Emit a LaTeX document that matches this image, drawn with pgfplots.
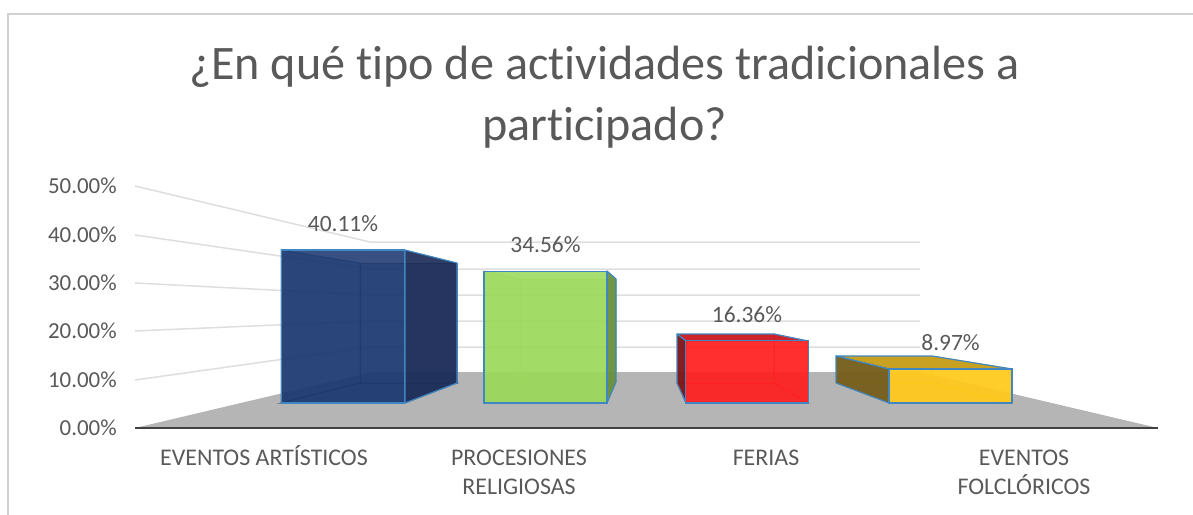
\documentclass[border=0pt]{standalone}
\usepackage{pgfplots}
\pgfplotsset{compat=1.18}
\usepackage{fontspec}
\setmainfont[Ligatures=NoCommon]{Carlito}
\definecolor{txt}{HTML}{595959}
\definecolor{gridc}{HTML}{DEDEDE}
\definecolor{edge}{HTML}{3F86C2}
\definecolor{floorc}{HTML}{B5B5B5}
\definecolor{cblue}{HTML}{1B3870}
\definecolor{cgreen}{HTML}{9BD95C}
\definecolor{cred}{HTML}{FF2020}
\definecolor{cyellow}{HTML}{FFC91A}
\definecolor{sblue}{HTML}{1B2C58}
\definecolor{sgreen}{HTML}{688F3C}
\definecolor{sred}{HTML}{7A1418}
\definecolor{syellow}{HTML}{705A1C}
\definecolor{tyellow}{HTML}{C49C18}
\definecolor{tred}{HTML}{C81A20}
\pgfplotsset{
  face/.style={draw=#1,fill=#1,fill opacity=.45,draw opacity=.6,line width=1bp},
  side/.style={draw=edge,fill=#1,fill opacity=.92,line width=1.2bp,line join=round},
}
\newcommand{\fl}{\rule{0pt}{20bp}}
\begin{document}
\begin{tikzpicture}
\useasboundingbox (0,0) rectangle (1193bp,515bp);
% ---------- background layer, in pixel coordinates of the picture
\begin{axis}[at={(0bp,0bp)},anchor=south west,width=1193bp,height=515bp,scale only axis,
  xmin=0,xmax=1193,ymin=0,ymax=515,y dir=reverse,hide axis,clip=false]
\addplot[draw=black!18,line width=1.8bp] coordinates {(8,515) (8,14) (1193,14)};
% floor
\addplot[draw=none,fill=floorc] coordinates {(135,428) (372,372) (920,372) (1158,428)} --cycle;
% grid lines: side wall and back wall
\addplot[gridc,line width=1.5bp] coordinates {(135,186) (370,242) (920,242)};
\addplot[gridc,line width=1.5bp] coordinates {(135,235) (370,269) (920,269)};
\addplot[gridc,line width=1.5bp] coordinates {(135,283) (370,295) (920,295)};
\addplot[gridc,line width=1.5bp] coordinates {(135,331) (370,321) (920,321)};
\addplot[gridc,line width=1.5bp] coordinates {(135,380) (370,347) (920,347)};
% blue box
\addplot[face=cblue] coordinates {(360,263) (457,263) (457,383) (360,383)} --cycle;
\addplot[face=cblue] coordinates {(281,250) (360,263) (360,383) (281,403)} --cycle;
\addplot[face=cblue] coordinates {(281,403) (405,403) (457,383) (360,383)} --cycle;
\addplot[side=sblue] coordinates {(405,250) (457,263) (457,383) (405,403)} --cycle;
% green box
\addplot[face=cgreen] coordinates {(520,279) (616,279) (616,382) (520,382)} --cycle;
\addplot[face=cgreen] coordinates {(484,271) (520,279) (520,382) (484,403)} --cycle;
\addplot[face=cgreen] coordinates {(484,403) (607,403) (616,382) (520,382)} --cycle;
\addplot[side=sgreen] coordinates {(607,271) (616,279) (616,382) (607,403)} --cycle;
% red box
\addplot[face=cred] coordinates {(677,334) (774,334) (774,383) (677,383)} --cycle;
\addplot[face=cred] coordinates {(774,334) (808,341) (808,403) (774,383)} --cycle;
\addplot[face=cred] coordinates {(686,403) (808,403) (774,383) (677,383)} --cycle;
\addplot[side=tred] coordinates {(677,334) (774,334) (808,341) (686,341)} --cycle;
\addplot[side=sred] coordinates {(677,334) (686,341) (686,403) (677,383)} --cycle;
% yellow box
\addplot[face=cyellow] coordinates {(836,356) (932,356) (932,383) (836,383)} --cycle;
\addplot[face=cyellow] coordinates {(932,356) (1012,369) (1012,403) (932,383)} --cycle;
\addplot[face=cyellow] coordinates {(889,403) (1012,403) (932,383) (836,383)} --cycle;
\addplot[side=tyellow] coordinates {(836,356) (932,356) (1012,369) (889,369)} --cycle;
\addplot[side=syellow] coordinates {(836,356) (889,369) (889,403) (836,383)} --cycle;
% title
\node[align=center,text=txt,font=\fontsize{48.3}{61}\selectfont] at (axis cs:604.5,97.5)
  {¿En qué tipo de actividades tradicionales a\\participado?};
\end{axis}
% ---------- value axis: ticks, baseline and category names
\begin{axis}[at={(135bp,87bp)},anchor=south west,width=1023bp,height=242bp,scale only axis,
  xmin=135,xmax=1158,ymin=0,ymax=50,
  axis x line=bottom,axis y line=left,
  x axis line style={draw=black!75,line width=2.8bp,-},
  y axis line style={draw=none},
  ytick={0,10,20,30,40,50},
  yticklabel={\pgfmathprintnumber[fixed,fixed zerofill,precision=2,assume math mode=true]{\tick}\%},
  yticklabel style={text=txt,font=\fontsize{23}{26}\selectfont,inner sep=0pt,xshift=-16bp},
  xtick={264,519,766,1024},
  xticklabels={\fl EVENTOS ARTÍSTICOS,{\fl PROCESIONES\\RELIGIOSAS},\fl FERIAS,{\fl EVENTOS\\FOLCLÓRICOS}},
  xticklabel style={text=txt,font=\fontsize{24}{29}\selectfont,align=center,anchor=north,inner sep=0pt,yshift=-15bp},
  major tick style={draw=none},
]
\end{axis}
% ---------- front faces of the boxes, drawn to the values
\begin{axis}[at={(0bp,112bp)},anchor=south west,width=1193bp,height=190.5bp,scale only axis,
  xmin=0,xmax=1193,ymin=0,ymax=50,hide axis,clip=false,
  ybar,bar width=123bp,
  nodes near coords={\pgfmathprintnumber[fixed,fixed zerofill,precision=2,assume math mode=true]{\pgfplotspointmeta}\%},
  every node near coord/.append style={text=txt,font=\fontsize{23.5}{26}\selectfont,inner sep=0pt,yshift=26.5bp,anchor=center,opacity=1},
]
\addplot[bar shift=0pt,fill=cblue,fill opacity=.88,draw=edge,line width=1.4bp] coordinates {(343,40.11)};
\addplot[bar shift=0pt,fill=cgreen,fill opacity=.88,draw=edge,line width=1.4bp] coordinates {(545.5,34.56)};
\addplot[bar shift=0pt,fill=cred,fill opacity=.88,draw=edge,line width=1.4bp] coordinates {(747,16.36)};
\addplot[bar shift=0pt,fill=cyellow,fill opacity=.88,draw=edge,line width=1.4bp] coordinates {(950.5,8.97)};
\end{axis}
\end{tikzpicture}
\end{document}
